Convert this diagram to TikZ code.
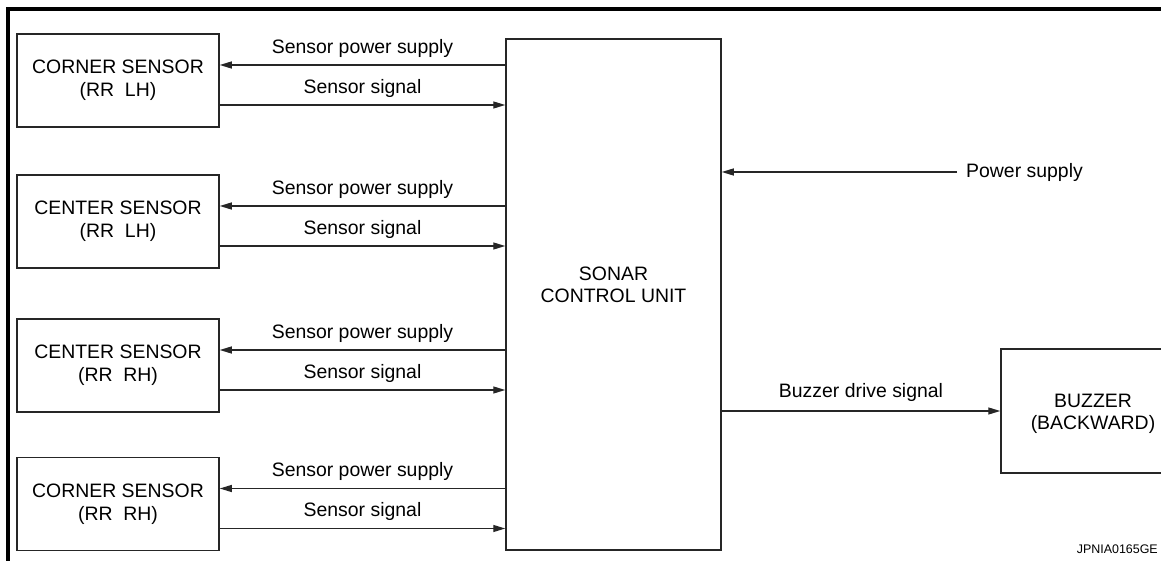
\documentclass[tikz,border=0pt]{standalone}
\usepackage{fontspec}
\setmainfont{Liberation Sans}
\usetikzlibrary{arrows.meta,positioning,calc}
\definecolor{Ink}{HTML}{262626}
\tikzset{
sensorbox/.style={draw=Ink, line width=1.5bp, minimum width=202bp, minimum height=93bp, align=center, inner sep=0pt, font=\fontsize{19.5}{23.5}\selectfont},
unitbox/.style={draw=Ink, line width=1.5bp, align=center, inner sep=0pt, font=\fontsize{19.5}{22}\selectfont},
sigarrow/.style={-{Triangle[length=12bp,width=7bp]}, line width=1.3bp, draw=Ink},
siglabel/.style={inner sep=0pt, font=\fontsize{19.5}{22}\selectfont},
frameline/.style={line width=3.5bp, draw=black}
}
\begin{document}
\begin{tikzpicture}[x=1bp, y=-1bp]
  \useasboundingbox (0,0) rectangle (1161,561);
  \clip (0,0) rectangle (1161,561);
  \draw[frameline] (8,570) -- (8,9) -- (1170,9);
  \node[sensorbox] (cnrlh) at (118,80.5) {CORNER SENSOR\\(RR\ \ LH)};
  \node[sensorbox] (ctrlh) at (118,221.5) {CENTER SENSOR\\(RR\ \ LH)};
  \node[sensorbox] (ctrrh) at (118,365.5) {CENTER SENSOR\\(RR\ \ RH)};
  \node[sensorbox] (cnrrh) at (118,504) {CORNER SENSOR\\(RR\ \ RH)};
  \node[unitbox, minimum width=215bp, minimum height=511bp] (sonar) at (613.5,294.5) {};
  \node[unitbox, draw=none] (sonartxt) at ([yshift=10bp]sonar.center) {SONAR\\CONTROL UNIT};
  \node[unitbox, minimum width=184bp, minimum height=124bp] (buzzer) at (1093,411) {};
  \node[unitbox, draw=none] (buzzertxt) at ([yshift=-3bp]buzzer.center) {BUZZER\\(BACKWARD)};
  \node[siglabel, anchor=west] (pwr) at (966,172) {Power supply};
  \node[inner sep=0pt, anchor=east, font=\fontsize{12.5}{15}\selectfont] (code) at (1158,549) {JPNIA0165GE};
  \foreach \s in {cnrlh,ctrlh,ctrrh,cnrrh}{
    \coordinate (p) at ([yshift=15.5bp]\s.east);
    \coordinate (q) at ([yshift=-24.5bp]\s.east);
    \draw[sigarrow] (sonar.west |- p) -- node[siglabel, above=7bp] {Sensor power supply} (p);
    \draw[sigarrow] (q) -- node[siglabel, above=7bp] {Sensor signal} (sonar.west |- q);
  }
  \draw[sigarrow, shorten <=9bp] (pwr.west) -- (sonar.east |- pwr.west);
  \draw[sigarrow] (sonar.east |- buzzer.west) -- node[siglabel, above=9bp] {Buzzer drive signal} (buzzer.west);
\end{tikzpicture}
\end{document}
